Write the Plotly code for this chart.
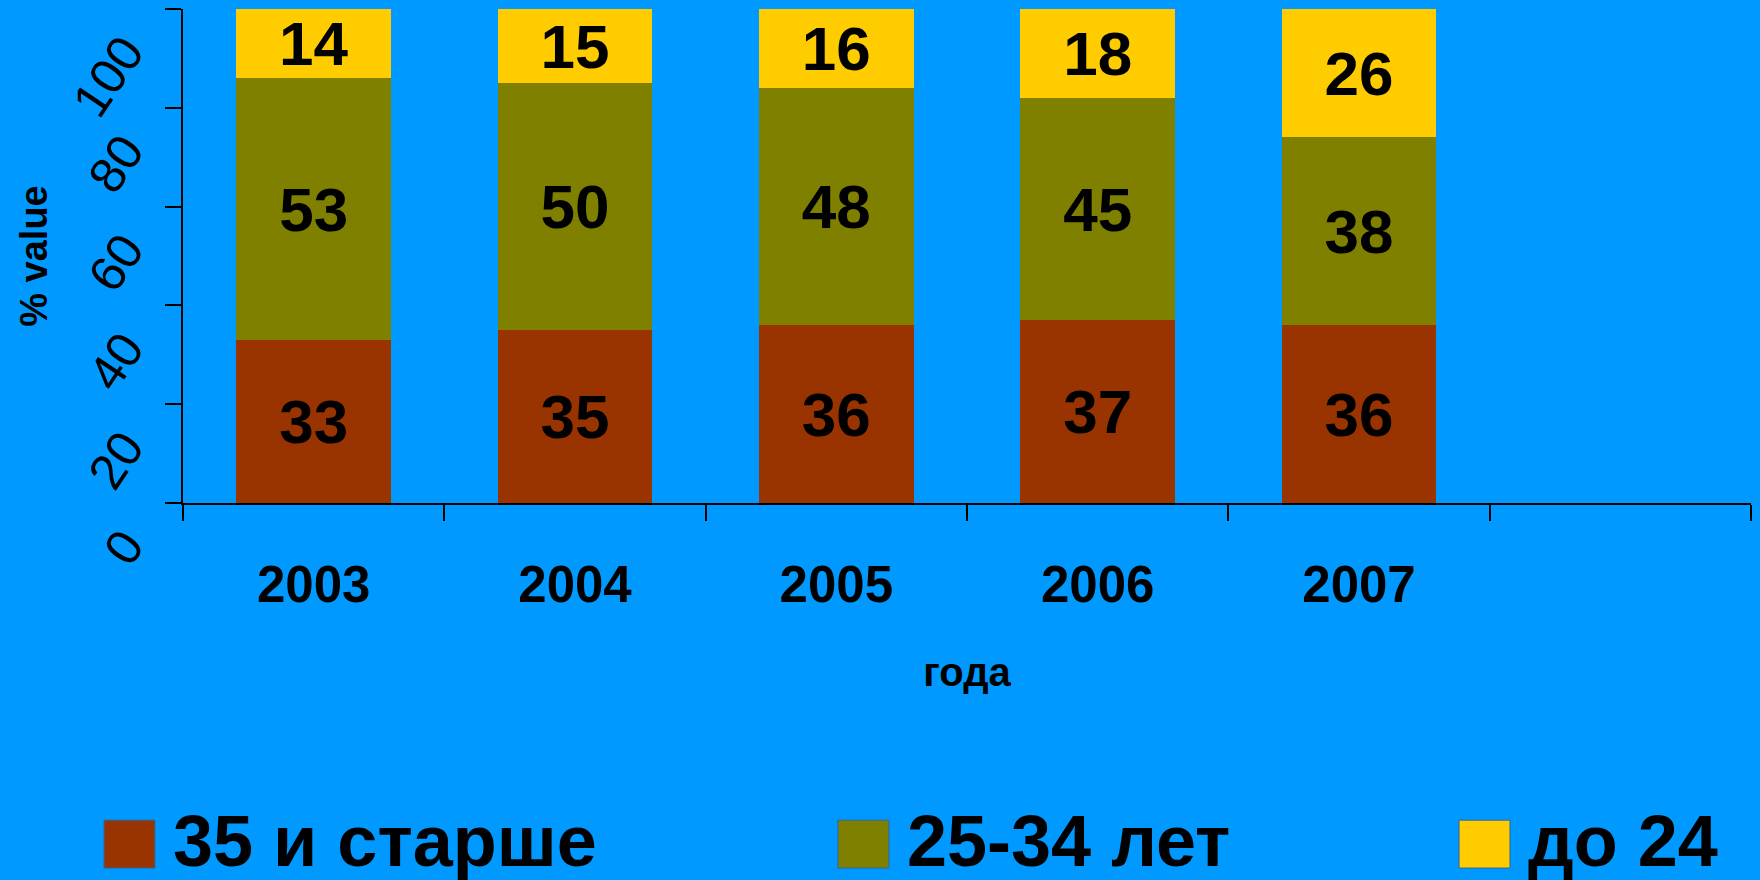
import plotly.graph_objects as go

years = ["2003", "2004", "2005", "2006", "2007"]
slots = years + [" "]
series_names = ["35 и старше", "25-34 лет", "до 24"]
series_colors = ["#993300", "#808000", "#FFCC00"]
old_35 = [33, 35, 36, 37, 36]
mid_25_34 = [53, 50, 48, 45, 38]
young_24 = [14, 15, 16, 18, 26]
series_values = [old_35, mid_25_34, young_24]
y_ticks = [0, 20, 40, 60, 80, 100]

FONT = "Arial, 'Liberation Sans', sans-serif"
BG = "#0099FF"

fig = go.Figure()
for name, color, vals in zip(series_names, series_colors, series_values):
    fig.add_trace(go.Bar(
        x=years, y=vals, name=name,
        marker=dict(color=color, line=dict(width=0)),
        text=[str(v) for v in vals],
        textposition="inside", insidetextanchor="middle", textangle=0,
        constraintext="none",
        textfont=dict(family=FONT, size=62, color="black", weight="bold"),
        showlegend=False,
    ))

# custom large legend (squares + labels) built from series lists
leg_sq_x = [-0.0504, 0.4177, 0.8138]
sq_w = 0.0325
for i, (name, color) in enumerate(zip(series_names, series_colors)):
    x0 = leg_sq_x[i]
    fig.add_shape(type="rect", xref="paper", yref="paper",
                  x0=x0, x1=x0 + sq_w, y0=-0.739, y1=-0.642,
                  fillcolor=color, line=dict(color="#336699", width=1))
    fig.add_annotation(xref="paper", yref="paper", x=x0 + sq_w + 0.01, y=-0.685,
                       xanchor="left", yanchor="middle", showarrow=False,
                       text=name,
                       font=dict(family=FONT, size=72, color="black", weight="bold"))

fig.update_layout(
    width=1760, height=880,
    paper_bgcolor=BG, plot_bgcolor=BG,
    barmode="stack", bargap=0.407,
    margin=dict(l=183, r=9, t=9, b=377),
    showlegend=False,
    xaxis=dict(
        type="category", categoryorder="array", categoryarray=slots,
        range=[-0.5, 5.5], tickson="boundaries",
        showline=True, linecolor="black", linewidth=2,
        ticks="outside", ticklen=16, tickwidth=2, tickcolor="black",
        tickfont=dict(family=FONT, size=51, color="black", weight="bold"),
        ticklabelstandoff=36,
        showgrid=False, zeroline=False,
        title=dict(text="года", standoff=46,
                   font=dict(family=FONT, size=40, color="black", weight="bold")),
    ),
    yaxis=dict(
        range=[0, 100], tickvals=y_ticks, ticktext=[str(v) for v in y_ticks],
        showline=True, linecolor="black", linewidth=2,
        ticks="outside", ticklen=16, tickwidth=2, tickcolor="black",
        tickangle=-56,
        tickfont=dict(family=FONT, size=50, color="black"),
        ticklabelshift=36, ticklabelstandoff=30,
        showgrid=False, zeroline=False,
        title=dict(text="% value", standoff=2,
                   font=dict(family=FONT, size=38, color="black", weight="bold")),
    ),
)

fig.write_html("out.html", config={"displayModeBar": False},
               post_script="document.body.style.margin='0';")
